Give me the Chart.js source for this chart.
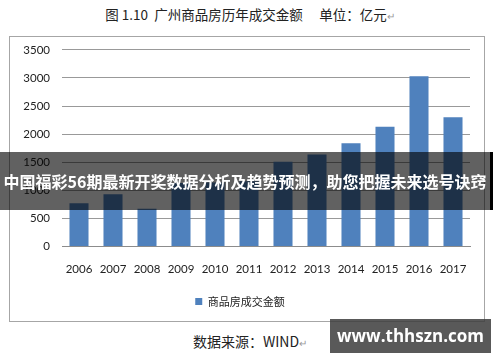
<!DOCTYPE html>
<html lang="zh">
<head>
<meta charset="UTF-8">
<title>广州商品房历年成交金额</title>
<script src="https://cdn.jsdelivr.net/npm/chart.js"></script>
<style>
    body {
        margin: 0;
        padding: 0;
        background: #fff;
        width: 500px;
        height: 362px;
        position: relative;
        overflow: hidden;
        font-family: "Noto Sans CJK SC", sans-serif;
    }
    .title {
        position: absolute;
        left: 0;
        top: 4px;
        width: 500px;
        text-align: center;
        font-size: 13.5px;
        color: #222;
        line-height: 20px;
    }
    .mark {
        color: #999;
        font-size: 10px;
    }
    .chart-box {
        position: absolute;
        left: 9px;
        top: 36px;
        width: 474px;
        height: 284px;
        border: 1px solid #a6a6a6;
    }
    #myChart {
        position: absolute;
        left: 0;
        top: -6px;
    }
    .footer {
        position: absolute;
        left: 0;
        top: 331px;
        width: 500px;
        text-align: center;
        font-size: 14px;
        color: #222;
        line-height: 20px;
    }
    .banner {
        position: absolute;
        left: 0;
        top: 152px;
        width: 490px;
        height: 58px;
        background: rgba(0, 0, 0, 0.62);
        border-right: 3px solid #000;
        color: #fff;
        font-weight: bold;
        font-size: 16px;
        line-height: 58px;
        text-align: center;
        white-space: nowrap;
    }
    .watermark {
        position: absolute;
        left: 330px;
        top: 319px;
        width: 161px;
        height: 34px;
        background: rgba(60, 60, 60, 0.85);
        color: #fff;
        font-family: "Open Sans", sans-serif;
        font-weight: bold;
        font-size: 17px;
        line-height: 34px;
        text-align: center;
    }
</style>
</head>
<body>
<div class="title">图 1.10&nbsp; 广州商品房历年成交金额　&nbsp;单位：亿元<span class="mark">↵</span></div>
<div class="chart-box">
    <canvas id="myChart" width="474" height="290"></canvas>
</div>
<div class="footer">数据来源：WIND<span class="mark">↵</span></div>
<div class="banner">中国福彩56期最新开奖数据分析及趋势预测，助您把握未来选号诀窍</div>
<div class="watermark">www.thhszn.com</div>
<script>
    // years and sales amount (亿元)
    const years = ['2006', '2007', '2008', '2009', '2010', '2011', '2012', '2013', '2014', '2015', '2016', '2017'];
    const amounts = [770, 930, 670, 1130, 1140, 1160, 1510, 1640, 1840, 2130, 3030, 2300];
    const yTicks = [0, 500, 1000, 1500, 2000, 2500, 3000, 3500];
    const seriesName = '商品房成交金额';

    const tickFont = { family: 'Lato, "Liberation Sans", sans-serif', size: 11.5 };

    const ctx = document.getElementById('myChart').getContext('2d');
    const myChart = new Chart(ctx, {
        type: 'bar',
        data: {
            labels: years,
            datasets: [{
                label: seriesName,
                data: amounts,
                backgroundColor: '#4F81BD',
                borderWidth: 0,
                categoryPercentage: 0.56,
                barPercentage: 1
            }]
        },
        options: {
            responsive: false,
            animation: false,
            layout: {
                padding: { top: 3, right: 14, left: 0, bottom: 4 }
            },
            plugins: {
                tooltip: { enabled: false },
                legend: {
                    position: 'bottom',
                    labels: {
                        boxWidth: 7,
                        boxHeight: 7,
                        padding: 10,
                        color: '#222',
                        font: { family: '"Noto Sans CJK SC", sans-serif', size: 11 }
                    }
                }
            },
            scales: {
                x: {
                    grid: { display: false, drawTicks: false },
                    border: { display: true, color: '#8c8c8c', width: 1 },
                    ticks: { color: '#222', font: tickFont, padding: 16, maxRotation: 0 },
                    afterFit: function (scale) { scale.height = 39.5; }
                },
                y: {
                    min: 0,
                    max: 3500,
                    afterBuildTicks: function (scale) {
                        scale.ticks = yTicks.map(v => ({ value: v }));
                    },
                    grid: { color: '#999', drawTicks: false, lineWidth: 1 },
                    border: { display: false },
                    ticks: {
                        color: '#222',
                        font: tickFont,
                        padding: 12,
                        callback: function (value) { return String(value); }
                    },
                    afterFit: function (scale) { scale.width = 52; }
                }
            }
        }
    });
</script>
</body>
</html>
